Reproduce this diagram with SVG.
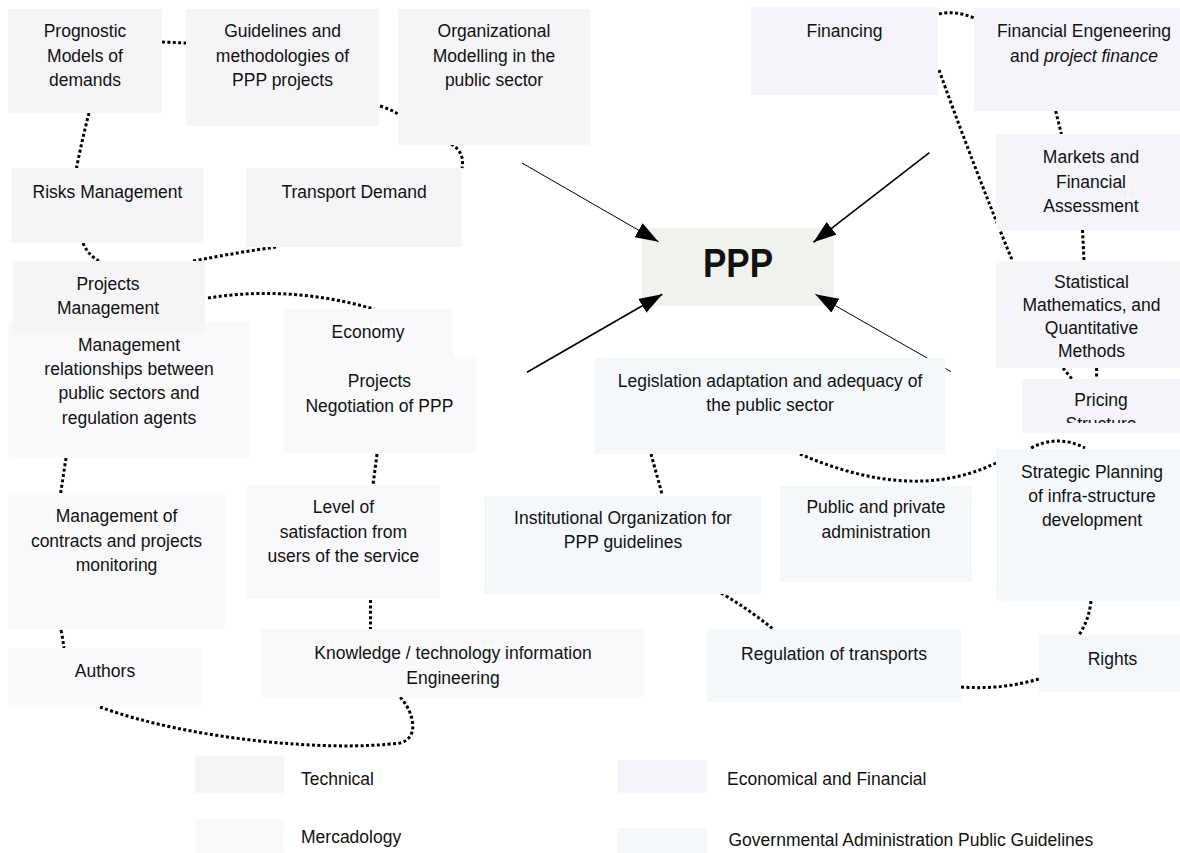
<svg xmlns="http://www.w3.org/2000/svg" width="1180" height="853" viewBox="0 0 1180 853">
  <style>
    text { font-family: "Liberation Sans", Arial, sans-serif; font-size: 17.5px; fill: #111; }
    .c { text-anchor: middle; }
    .tech { fill: #f5f5f7; }
    .merc { fill: #f9f9fb; }
    .econ { fill: #f4f4fa; }
    .gov { fill: #f4f8fb; }
    .core { fill: #f0f2ee; }
    .dot { fill: none; stroke: #000; stroke-width: 3; stroke-dasharray: 3 2.4; }
    .arr { fill: none; stroke: #000; marker-end: url(#head); }
    .ppp { font-size: 41px; font-weight: bold; }
  </style>
  <defs>
    <marker id="head" viewBox="0 0 23 16" refX="23" refY="8" markerUnits="userSpaceOnUse" markerWidth="23" markerHeight="16" orient="auto">
      <path d="M0,0 L23,8 L0,16 z" fill="#000"/>
    </marker>
    <clipPath id="pricingClip">
      <rect x="1022" y="379" width="170" height="44"/>
    </clipPath>
  </defs>

  <rect width="1180" height="853" fill="#fff"/>

  <!-- central node -->
  <g id="ppp">
    <rect class="core" x="642" y="228" width="192" height="78"/>
    <text class="c ppp" x="738" y="277" textLength="70" lengthAdjust="spacingAndGlyphs">PPP</text>
  </g>

  <!-- connectors -->
  <g id="connectors">
    <path class="dot" d="M162,42 L186,43"/>
    <path class="dot" d="M380,106 Q390,109 398,114"/>
    <path class="dot" d="M89,113 Q82,140 76.5,168"/>
    <path class="dot" d="M451,144 Q465,152 462,168"/>
    <path class="dot" d="M83,243 Q88,255 99,261"/>
    <path class="dot" d="M276,247 Q240,252 193,261"/>
    <path class="dot" d="M208,298 Q290,285 374,309"/>
    <path class="dot" d="M66,458 L60.5,494"/>
    <path class="dot" d="M377,454 L373,485"/>
    <path class="dot" d="M370.5,600 L370.5,629"/>
    <path class="dot" d="M61,630 Q63,640 64,648"/>
    <path class="dot" d="M100,707 C190,740 330,752 400,743 C420,738 414,712 400,697"/>
    <path class="dot" d="M651,454 L662,494"/>
    <path class="dot" d="M800,454 C860,480 930,495 996,463"/>
    <path class="dot" d="M1031,448 Q1058,434 1085,448"/>
    <path class="dot" d="M1063,368 L1072,379"/>
    <path class="dot" d="M1096.6,368 L1096.6,378"/>
    <path class="dot" d="M1082.5,230 L1084,261"/>
    <path class="dot" d="M1055.7,111 L1061.4,134"/>
    <path class="dot" d="M939,70 Q975,170 1012.5,261"/>
    <path class="dot" d="M939,14 Q955,10 974,18"/>
    <path class="dot" d="M721,593 Q750,610 773,629"/>
    <path class="dot" d="M1091,601 Q1089,620 1079,635"/>
    <path class="dot" d="M961,687 Q1001,690 1039,679"/>

    <path class="arr" stroke-width="1" d="M522,163 L658.5,241.7"/>
    <path class="arr" stroke-width="1.6" d="M929.4,152.7 L813.4,242.3"/>
    <path class="arr" stroke-width="1.6" d="M527,372.3 L662.3,294.3"/>
    <path class="arr" stroke-width="1" d="M951,371.7 L815.4,294.3"/>
  </g>

  <!-- technical -->
  <g id="prognostic">
    <rect class="tech" x="8" y="9" width="154" height="104"/>
    <text class="c"><tspan x="85" y="37">Prognostic</tspan><tspan x="85" y="62">Models of</tspan><tspan x="85" y="86">demands</tspan></text>
  </g>
  <g id="guidelines">
    <rect class="tech" x="186" y="9" width="193" height="117"/>
    <text class="c"><tspan x="282.5" y="37">Guidelines and</tspan><tspan x="282.5" y="62">methodologies of</tspan><tspan x="282.5" y="86">PPP projects</tspan></text>
  </g>
  <g id="organizational">
    <rect class="tech" x="398" y="9" width="192" height="136"/>
    <text class="c"><tspan x="494" y="37">Organizational</tspan><tspan x="494" y="62">Modelling in the</tspan><tspan x="494" y="86">public sector</tspan></text>
  </g>
  <g id="risks">
    <rect class="tech" x="11.5" y="168" width="192" height="75"/>
    <text class="c" x="107.5" y="198">Risks Management</text>
  </g>
  <g id="transport-demand">
    <rect class="tech" x="246" y="168" width="215.5" height="79"/>
    <text class="c" x="354" y="198">Transport Demand</text>
  </g>

  <!-- mercadology -->
  <g id="management-relationships">
    <rect class="merc" x="8.5" y="322" width="241" height="135"/>
    <text class="c"><tspan x="129" y="350.7">Management</tspan><tspan x="129" y="375">relationships between</tspan><tspan x="129" y="399.3">public sectors and</tspan><tspan x="129" y="423.7">regulation agents</tspan></text>
  </g>
  <g id="projects-management">
    <rect class="tech" x="13" y="261" width="192" height="72"/>
    <text class="c"><tspan x="108" y="290">Projects</tspan><tspan x="108" y="314">Management</tspan></text>
  </g>
  <g id="economy">
    <rect class="merc" x="283" y="309" width="170" height="100"/>
    <text class="c" x="368" y="338">Economy</text>
  </g>
  <g id="negotiation">
    <rect class="merc" x="283" y="358" width="193" height="95"/>
    <text class="c"><tspan x="379.4" y="387">Projects</tspan><tspan x="379.4" y="411.7">Negotiation of PPP</tspan></text>
  </g>
  <g id="management-contracts">
    <rect class="merc" x="8.5" y="494" width="216.5" height="135"/>
    <text class="c"><tspan x="116.5" y="521.7">Management of</tspan><tspan x="116.5" y="546.7">contracts and projects</tspan><tspan x="116.5" y="570.7">monitoring</tspan></text>
  </g>
  <g id="satisfaction">
    <rect class="merc" x="247" y="485" width="193" height="114"/>
    <text class="c"><tspan x="343.4" y="513">Level of</tspan><tspan x="343.4" y="537.5">satisfaction from</tspan><tspan x="343.4" y="562">users of the service</tspan></text>
  </g>
  <g id="authors">
    <rect class="merc" x="8.5" y="648" width="192.5" height="58"/>
    <text class="c" x="105" y="676.7">Authors</text>
  </g>
  <g id="knowledge">
    <rect class="merc" x="261.5" y="629" width="383.5" height="68"/>
    <text class="c"><tspan x="453" y="659">Knowledge / technology information</tspan><tspan x="453" y="684">Engineering</tspan></text>
  </g>

  <!-- economical and financial -->
  <g id="financing">
    <rect class="econ" x="751" y="7" width="187" height="88"/>
    <text class="c" x="844.5" y="37">Financing</text>
  </g>
  <g id="financial-engineering">
    <rect class="econ" x="974" y="8" width="220" height="103"/>
    <text class="c"><tspan x="1084" y="37">Financial Engeneering</tspan><tspan x="1084" y="62">and <tspan font-style="italic">project finance</tspan></tspan></text>
  </g>
  <g id="markets">
    <rect class="econ" x="996" y="134" width="190" height="96"/>
    <text class="c"><tspan x="1091" y="162.7">Markets and</tspan><tspan x="1091" y="187.7">Financial</tspan><tspan x="1091" y="212">Assessment</tspan></text>
  </g>
  <g id="statistical">
    <rect class="econ" x="996" y="261" width="190" height="107"/>
    <text class="c"><tspan x="1091.5" y="288">Statistical</tspan><tspan x="1091.5" y="311">Mathematics, and</tspan><tspan x="1091.5" y="334">Quantitative</tspan><tspan x="1091.5" y="357">Methods</tspan></text>
  </g>
  <g id="pricing">
    <rect class="econ" x="1022" y="379" width="170" height="54"/>
    <text class="c" clip-path="url(#pricingClip)"><tspan x="1101" y="406">Pricing</tspan><tspan x="1101" y="430">Structure</tspan></text>
  </g>

  <!-- governmental administration -->
  <g id="legislation">
    <rect class="gov" x="594.5" y="358" width="351" height="96"/>
    <text class="c"><tspan x="770" y="386.7">Legislation adaptation and adequacy of</tspan><tspan x="770" y="411">the public sector</tspan></text>
  </g>
  <g id="strategic-planning">
    <rect class="gov" x="996" y="449" width="192" height="152"/>
    <text class="c"><tspan x="1092" y="478">Strategic Planning</tspan><tspan x="1092" y="502">of infra-structure</tspan><tspan x="1092" y="526">development</tspan></text>
  </g>
  <g id="institutional">
    <rect class="gov" x="484" y="496" width="278" height="98"/>
    <text class="c"><tspan x="623" y="524">Institutional Organization for</tspan><tspan x="623" y="548">PPP guidelines</tspan></text>
  </g>
  <g id="public-private">
    <rect class="gov" x="780" y="486" width="192" height="96"/>
    <text class="c"><tspan x="876" y="513">Public and private</tspan><tspan x="876" y="538">administration</tspan></text>
  </g>
  <g id="regulation">
    <rect class="gov" x="707" y="629" width="254" height="73"/>
    <text class="c" x="834" y="660">Regulation of transports</text>
  </g>
  <g id="rights">
    <rect class="gov" x="1039" y="635" width="147" height="57"/>
    <text class="c" x="1112.5" y="665">Rights</text>
  </g>

  <!-- legend -->
  <g id="legend">
    <rect class="tech" x="195" y="756" width="89" height="37"/>
    <text x="301" y="785">Technical</text>
    <rect class="merc" x="195" y="819" width="89" height="34"/>
    <text x="301" y="843">Mercadology</text>
    <rect class="econ" x="617.5" y="760" width="89.5" height="33"/>
    <text x="727" y="785">Economical and Financial</text>
    <rect class="gov" x="617.5" y="828" width="89.5" height="25"/>
    <text x="728.5" y="846">Governmental Administration Public Guidelines</text>
  </g>
</svg>
